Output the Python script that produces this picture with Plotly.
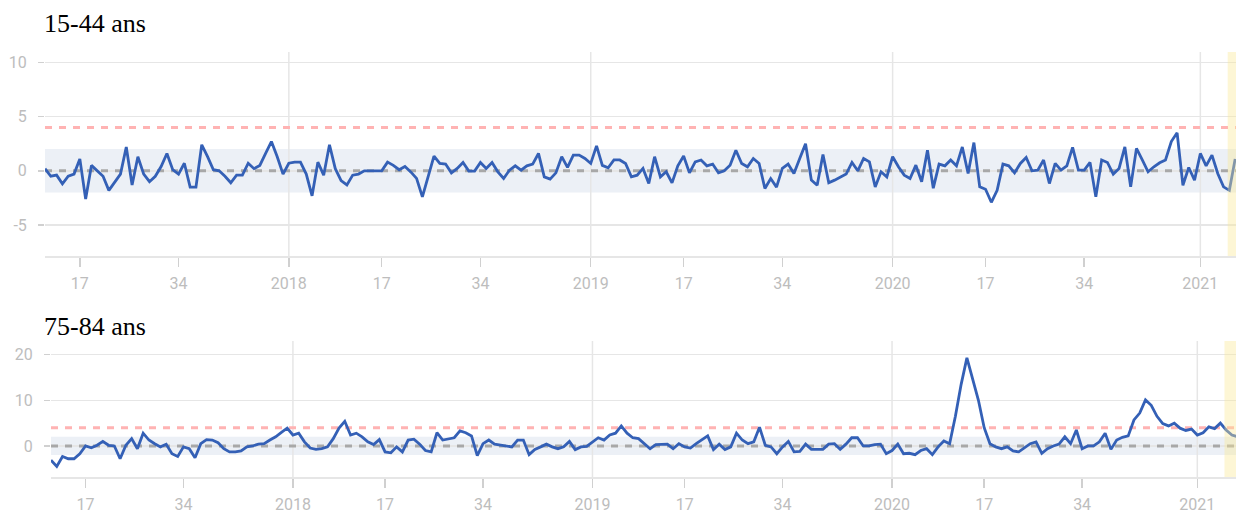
import datetime as dt
import plotly.graph_objects as go

# ---------------- data (weekly z-scores) ----------------
TITLES = ["15-44 ans", "75-84 ans"]
START_YEAR = 2017
START_WEEK = 11          # first ISO week shown
TICK_WEEKS = [17, 34]    # intermediate week ticks
YEARS = [2017, 2018, 2019, 2020, 2021]
THRESHOLD = 4
BAND = 2
HIGHLIGHT_FROM = (2021, 5, 6)   # ISO (year, week, day) where the yellow zone begins

top_2017 = [0.2, -0.5, -0.4, -1.2, -0.5, -0.3, 1.1, -2.6, 0.5, 0.0,
            -0.5, -1.8, -1.0, -0.3, 2.2, -1.3, 1.3, -0.3, -1.0, -0.5,
            0.4, 1.6, 0.1, -0.3, 0.7, -1.5, -1.5, 2.4, 1.3, 0.1,
            0.0, -0.5, -1.1, -0.4, -0.4, 0.7, 0.2, 0.5, 1.6, 2.7,
            1.3, -0.3]
top_2018 = [0.7, 0.8, 0.8, -0.3, -2.3, 0.8, -0.4, 2.4, 0.2, -0.9,
            -1.3, -0.4, -0.3, 0.0, 0.0, 0.0, 0.0, 0.8, 0.5, 0.1,
            0.4, -0.1, -0.7, -2.4, -0.55, 1.36, 0.68, 0.62, -0.19, 0.22,
            0.77, -0.03, -0.03, 0.77, 0.22, 0.77, -0.09, -0.71, 0.06, 0.46,
            0.06, 0.46, 0.62, 1.6, -0.56, -0.77, -0.19, 1.3, 0.31, 1.45,
            1.45, 1.14]
top_2019 = [0.68, 2.3, 0.5, 0.28, 1.0, 1.0, 0.68, -0.56, -0.4, 0.22,
            -1.17, 1.3, -0.56, -0.09, -1.11, 0.46, 1.36, -0.19, 0.83, 1.0,
            0.46, 0.62, -0.19, 0.0, 0.52, 1.9, 0.68, 0.37, 1.14, 0.68,
            -1.63, -0.71, -1.5, 0.22, 0.62, -0.25, 1.14, 2.5, -0.86, -1.33,
            1.5, -1.1, -0.86, -0.56, -0.3, 0.77, 0.0, 1.14, 0.83, -1.48,
            -0.09, -0.56]
top_2020 = [1.3, 0.37, -0.4, -0.71, 0.52, -1.0, 1.9, -1.6, 0.62, 0.46,
            1.0, 0.46, 2.2, -0.25, 2.6, -1.48, -1.7, -2.9, -1.8, 0.62,
            0.46, -0.19, 0.68, 1.23, 0.0, 0.06, 1.0, -1.17, 0.68, 0.06,
            0.46, 2.16, 0.06, 0.06, 0.77, -2.4, 1.0, 0.77, -0.3, 0.22,
            2.2, -1.48, 2.07, 1.0, -0.09, 0.37, 0.74, 1.0, 2.7, 3.5,
            -1.33, 0.31, -0.86]
top_2021 = [1.6, 0.46, 1.45, -0.25, -1.48, -1.8, 1.1]

bottom_2017 = [-3.1, -4.5, -2.3, -2.8, -2.8, -1.7, 0.0, -0.4, 0.15, 1.0,
               0.15, 0.0, -2.8, 0.15, 1.6, -0.6, 2.8, 1.3, 0.5, -0.2,
               0.37, -1.7, -2.3, -0.2, -0.6, -2.6, 0.5, 1.4, 1.3, 0.7,
               -0.6, -1.3, -1.3, -1.1, -0.2, 0.0, 0.4, 0.5, 1.3, 2.0,
               3.0, 3.9]
bottom_2018 = [2.4, 2.8, 0.9, -0.45, -0.75, -0.6, -0.2, 1.6, 3.9, 5.4,
               2.4, 2.8, 2.0, 0.9, 0.3, 1.4, -1.3, -1.5, -0.2, -1.3,
               1.3, 1.5, 0.4, -1.0, -1.3, 2.9, 1.3, 1.6, 1.8, 3.3,
               2.9, 2.2, -2.1, 0.5, 1.3, 0.4, 0.15, 0.0, -0.2, 1.3,
               1.3, -1.9, -0.75, -0.2, 0.4, -0.2, -0.6, -0.2, 1.0, -0.8,
               -0.2, -0.1]
bottom_2019 = [0.9, 1.8, 1.3, 2.4, 2.8, 4.4, 2.8, 1.8, 1.6, 0.5,
               -0.6, 0.3, 0.4, 0.4, -0.6, 0.5, -0.2, -0.45, 0.5, 1.3,
               2.2, -0.8, 0.4, -0.8, -0.2, 2.8, 1.3, 0.5, 0.9, 4.1,
               0.15, -0.2, -1.7, -0.2, 1.0, -1.3, -1.2, 0.4, -0.75, -0.75,
               -0.75, 0.4, 0.5, -0.75, 0.4, 1.8, 1.8, 0.0, 0.0, 0.3,
               0.4, -1.7]
bottom_2020 = [-1.0, 0.4, -1.7, -1.6, -1.9, -1.0, -0.6, -1.9, -0.2, 1.1,
               0.5, 6.5, 13.5, 19.3, 14.5, 10.0, 4.0, 0.5, -0.2, -0.6,
               -0.2, -1.1, -1.3, -0.45, 0.5, 0.9, -1.6, -0.6, 0.0, 0.4,
               2.0, 0.5, 3.5, -0.6, 0.0, 0.0, 0.9, 2.8, -0.75, 1.3,
               1.9, 2.2, 5.7, 7.2, 10.1, 8.9, 6.5, 4.9, 4.4, 5.0,
               3.9, 3.4, 3.7]
bottom_2021 = [2.4, 2.9, 4.2, 3.8, 5.0, 3.5, 2.4, 2.0]

top_years = [top_2017, top_2018, top_2019, top_2020, top_2021]
bottom_years = [bottom_2017, bottom_2018, bottom_2019, bottom_2020, bottom_2021]


def weekly(year_lists):
    xs, ys = [], []
    for year, vals in zip(YEARS, year_lists):
        first = START_WEEK if year == START_YEAR else 1
        for i, v in enumerate(vals):
            xs.append(dt.date.fromisocalendar(year, first + i, 1))
            ys.append(v)
    return xs, ys


tickvals, ticktext = [], []
for y in YEARS:
    tickvals.append(dt.date.fromisocalendar(y, 1, 1)); ticktext.append(str(y))
    for w in TICK_WEEKS:
        tickvals.append(dt.date.fromisocalendar(y, w, 1)); ticktext.append(str(w))
year_starts = [dt.date.fromisocalendar(y, 1, 1) for y in YEARS[1:]]
x_start = dt.date.fromisocalendar(START_YEAR, START_WEEK, 1)
highlight = dt.date.fromisocalendar(*HIGHLIGHT_FROM)

# ---------------- figure ----------------
W, H = 1236, 519
BLUE = "#3460b6"
GRID = "#e6e6e6"
TICKFONT = dict(family="Roboto, sans-serif", size=16, color="#bdbdbd")

fig = go.Figure()
panels = [
    dict(data=top_years, xdom=(45, 1236), ydom=(52, 256),
         yr=[-7.85, 10.95], yt=[-5, 0, 5, 10], xend=dt.date(2021, 2, 16)),
    dict(data=bottom_years, xdom=(51, 1236), ydom=(341, 477),
         yr=[-6.8, 23], yt=[0, 10, 20], xend=dt.date(2021, 2, 20)),
]

shapes = []
for k, p in enumerate(panels):
    sfx = "" if k == 0 else "2"
    xr, yr = "x" + sfx, "y" + sfx
    # reference lines (drawn first so the series sits on top)
    fig.add_trace(go.Scatter(x=[x_start, p["xend"]], y=[0, 0], mode="lines",
                             xaxis=xr, yaxis=yr, hoverinfo="skip", showlegend=False,
                             line=dict(color="#a8a8a8", width=3, dash="7px,7px")))
    fig.add_trace(go.Scatter(x=[x_start, p["xend"]], y=[THRESHOLD, THRESHOLD],
                             mode="lines", xaxis=xr, yaxis=yr, hoverinfo="skip",
                             showlegend=False,
                             line=dict(color="#ffb3b3", width=3, dash="7px,7px")))
    xs, ys = weekly(p["data"])
    fig.add_trace(go.Scatter(x=xs, y=ys, mode="lines", xaxis=xr, yaxis=yr,
                             line=dict(color=BLUE, width=2.8), showlegend=False))
    fig.layout["xaxis" + sfx] = dict(
        domain=[p["xdom"][0] / W, p["xdom"][1] / W], anchor=yr,
        range=[x_start, p["xend"]], type="date",
        tickmode="array", tickvals=tickvals, ticktext=ticktext,
        showgrid=False, showline=True, linecolor=GRID, linewidth=1.5,
        ticks="outside", ticklen=9, tickwidth=1.5, tickcolor="#d0d0d0",
        tickfont=TICKFONT, ticklabelstandoff=3, zeroline=False, fixedrange=True)
    fig.layout["yaxis" + sfx] = dict(
        domain=[1 - p["ydom"][1] / H, 1 - p["ydom"][0] / H], anchor=xr,
        range=p["yr"], tickmode="array", tickvals=p["yt"],
        ticktext=[str(v) for v in p["yt"]],
        showgrid=True, gridcolor=GRID, gridwidth=1.5, zeroline=False,
        showline=False, ticks="outside", ticklen=6, tickwidth=1.5,
        tickcolor="#d0d0d0", tickfont=TICKFONT, ticklabelstandoff=8,
        fixedrange=True)
    # normal band
    shapes.append(dict(type="rect", xref=xr + " domain", yref=yr, x0=0, x1=1,
                       y0=-BAND, y1=BAND, fillcolor="#ecf0f6", line_width=0,
                       layer="below"))
    # year grid lines
    for d in year_starts:
        shapes.append(dict(type="line", xref=xr, yref=yr + " domain", x0=d, x1=d,
                           y0=0, y1=1, line=dict(color=GRID, width=1.5),
                           layer="below"))
    # incomplete-data zone
    shapes.append(dict(type="rect", xref=xr, yref=yr + " domain", x0=highlight,
                       x1=p["xend"], y0=0, y1=1, fillcolor="rgba(250,232,150,0.4)",
                       line_width=0, layer="above"))

TITLE_FONT = dict(family="Liberation Serif, serif", size=26, color="black")
annotations = [
    dict(text=TITLES[0], xref="paper", yref="paper", x=(45 - 3) / W,
         y=1 - 23.5 / H, xanchor="left", yanchor="middle",
         showarrow=False, font=TITLE_FONT),
    dict(text=TITLES[1], xref="paper", yref="paper", x=(45 - 3) / W,
         y=1 - 326.5 / H, xanchor="left", yanchor="middle",
         showarrow=False, font=TITLE_FONT),
]

fig.update_layout(width=W, height=H, margin=dict(l=0, r=0, t=0, b=0),
                  paper_bgcolor="white", plot_bgcolor="white",
                  shapes=shapes, annotations=annotations, showlegend=False,
                  hovermode=False)

fig.write_html("out.html", config={"displayModeBar": False, "staticPlot": True},
               post_script="document.body.style.margin='0';"
                           "document.body.style.overflow='hidden';")
